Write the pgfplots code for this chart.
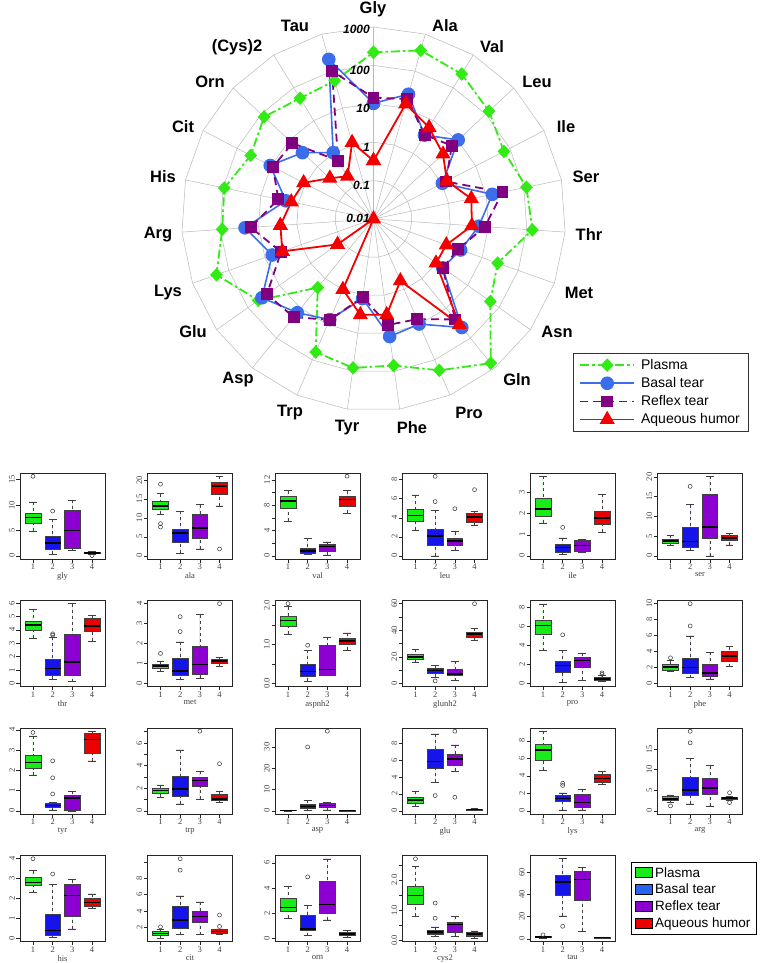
\documentclass[border=0pt]{standalone}
\usepackage{pgfplots}
\pgfplotsset{compat=1.18}
\usepgfplotslibrary{polar,statistics}
\usepackage{fontspec}
\setmainfont{Liberation Sans}
\newfontfamily\bxserif{Liberation Serif}
\newcommand{\bxf}{\bxserif\fontsize{8.5}{9}\selectfont}

\definecolor{rG}{RGB}{50,235,20}
\definecolor{rB}{RGB}{60,110,235}
\definecolor{rP}{RGB}{128,0,128}
\definecolor{rR}{RGB}{245,0,0}
\definecolor{bG}{RGB}{25,235,25}
\definecolor{bB}{RGB}{20,20,235}
\definecolor{bP}{RGB}{140,0,210}
\definecolor{bR}{RGB}{235,0,0}
\definecolor{lB}{RGB}{40,100,240}

\pgfplotsset{
 bx/.style={anchor=north west, scale only axis, width=85pt, height=86pt,
  xmin=0.34, xmax=4.66, xtick={1,2,3,4}, xticklabels={1,2,3,4},
  axis line style={black!85, line width=0.6pt},
  tick pos=left, tick align=outside, major tick length=3.5pt,
  tick style={black!85, line width=0.5pt},
  ticklabel style={font=\bxf, text=black!75},
  yticklabel style={rotate=90, anchor=south, inner sep=1.5pt},
  xticklabel style={inner sep=1.5pt},
  xlabel style={font=\bxf, text=black!75, inner sep=0pt, yshift=-1pt},
  boxplot/draw direction=y,
  boxplot/box extend=0.8, boxplot/whisker extend=0.4,
  boxplot/every median/.style={line width=1.5pt, black},
  boxplot/draw/lower whisker/.code={%
    \draw[dashed, line width=0.5pt] (boxplot box cs:\pgfplotsboxplotvalue{lower whisker},0.5) -- (boxplot box cs:\pgfplotsboxplotvalue{lower quartile},0.5);
    \draw[solid, line width=0.5pt] (boxplot whisker cs:\pgfplotsboxplotvalue{lower whisker},0) -- (boxplot whisker cs:\pgfplotsboxplotvalue{lower whisker},1);},
  boxplot/draw/upper whisker/.code={%
    \draw[dashed, line width=0.5pt] (boxplot box cs:\pgfplotsboxplotvalue{upper whisker},0.5) -- (boxplot box cs:\pgfplotsboxplotvalue{upper quartile},0.5);
    \draw[solid, line width=0.5pt] (boxplot whisker cs:\pgfplotsboxplotvalue{upper whisker},0) -- (boxplot whisker cs:\pgfplotsboxplotvalue{upper whisker},1);},
  clip=false},
 bxp/.style={draw=black!75, line width=0.5pt, mark=o, mark size=2pt, mark options={solid, black!80, line width=0.5pt}}
}
\newcommand{\bp}[7]{\addplot[bxp, fill=#2, boxplot prepared={draw position=#1, lower whisker=#3, lower quartile=#4, median=#5, upper quartile=#6, upper whisker=#7}] coordinates}

\begin{document}
\begin{tikzpicture}
\useasboundingbox (0,0) rectangle (765pt,-963pt);
\coordinate (C) at (373.5pt,-219pt);
% radar grid
\foreach \r in {38.4,76.8,115.2,153.6,192}{
  \draw[gray!55, line width=0.5pt] ([shift={(C)}]90:\r pt) \foreach \k in {1,...,22}{ -- ([shift={(C)}]{90-\k*360/23}:\r pt) } -- cycle;
}
\foreach \k in {0,...,22}{ \draw[gray!55, line width=0.5pt] (C) -- ([shift={(C)}]{90-\k*360/23}:192pt); }

\begin{polaraxis}[at={(373.5pt,-219pt)}, anchor=origin, scale only axis, width=384pt, height=384pt,
  xmin=0, xmax=360, ymin=0, ymax=5, hide axis, clip=false,
  y filter/.expression={log10(y)+2},
  legend style={at={(1.0195,0.151)}, anchor=north west, draw=black!80, line width=0.6pt, fill=white,
     font=\fontsize{14}{15}\selectfont, row sep=2.5pt, inner xsep=6pt, inner ysep=4pt,
     /tikz/every odd column/.append style={column sep=4pt}},
  legend cell align=left,
  legend image code/.code={\draw[mark repeat=2, mark phase=2, #1] plot coordinates {(0pt,0pt) (27pt,0pt) (54pt,0pt)};}]
\addplot[rG, line width=1.8pt, dash pattern=on 9pt off 3pt on 2.5pt off 3pt, mark=diamond*, mark size=5.5pt, mark options={solid, fill=rG, xscale=1.25}] table {
a v
90 219
74.348 363
58.696 263
43.043 130
27.391 67
11.739 117
-3.913 140
-19.565 27
-35.217 53
-50.870 690
-66.522 198
-82.174 71
-97.826 82
-113.478 60
-129.130 2.0
-144.783 47
-160.435 219
-176.087 89
-191.739 93
-207.391 40
-223.043 79
-238.696 48
-254.348 55
-270 219
};
\addlegendentry{Plasma}
\addplot[rB, line width=1.6pt, mark=*, mark size=6pt, mark options={solid, fill=rB}] table {
a v
90 10.3
74.348 23.7
58.696 3.6
43.043 10.4
27.391 1.05
11.739 14.5
-3.913 5.6
-19.565 2.57
-35.217 1.6
-50.870 44
-66.522 9.6
-82.174 12.3
-97.826 1.23
-113.478 7.2
-129.130 14
-144.783 36
-160.435 6.3
-176.087 22.6
-191.739 2.15
-207.391 10.7
-223.043 3.4
-238.696 1.05
-254.348 208
-270 10.3
};
\addlegendentry{Basal tear}
\addplot[rP, line width=1.8pt, dash pattern=on 8pt off 5pt, mark=square*, mark size=5pt, mark options={solid, fill=rP}] table {
a v
90 14.4
74.348 17.7
58.696 3.7
43.043 6.2
27.391 1.32
11.739 27
-3.913 8.1
-19.565 2.2
-35.217 1.6
-50.870 23.5
-66.522 7.0
-82.174 6.1
-97.826 1.13
-113.478 7.3
-129.130 19.7
-144.783 25
-160.435 3.6
-176.087 16
-191.739 3.4
-207.391 8.9
-223.043 7.8
-238.696 0.6
-254.348 100
-270 14.4
};
\addlegendentry{Reflex tear}
\addplot[rR, line width=1.8pt, mark=triangle*, mark size=7pt, mark options={solid, fill=rR}] table {
a v
90 0.33
74.348 13
58.696 6.1
43.043 3.0
27.391 1.42
11.739 4.0
-3.913 3.7
-19.565 1.03
-35.217 0.98
-50.870 35
-66.522 0.57
-82.174 3.3
-97.826 3.3
-113.478 1.0
-129.130 0.01
-144.783 0.14
-160.435 3.3
-176.087 2.7
-191.739 1.54
-207.391 1.12
-223.043 0.36
-238.696 0.2
-254.348 1.17
-270 0.33
};
\addlegendentry{Aqueous humor}
\end{polaraxis}

% radial labels
\begin{scope}[every node/.style={anchor=east, font=\bfseries\itshape\fontsize{12}{12}\selectfont, inner sep=0pt}]
\node at (370pt,-29pt) {1000};
\node at (370pt,-70pt) {100};
\node at (370pt,-108pt) {10};
\node at (370pt,-147pt) {1};
\node at (370pt,-185pt) {0.1};
\node at (370pt,-218pt) {0.01};
\end{scope}
% category labels
\begin{scope}[every node/.style={font=\bfseries\fontsize{16.5}{17}\selectfont, inner sep=0pt}]
\node at (373pt,-9pt) {Gly};
\node at (445pt,-26pt) {Ala};
\node at (492pt,-47pt) {Val};
\node at (537pt,-82pt) {Leu};
\node at (566pt,-127pt) {Ile};
\node at (586pt,-177pt) {Ser};
\node at (589pt,-235pt) {Thr};
\node at (579pt,-293pt) {Met};
\node at (557pt,-332pt) {Asn};
\node at (517pt,-380pt) {Gln};
\node at (469pt,-413pt) {Pro};
\node at (412pt,-428pt) {Phe};
\node at (347pt,-428pt) {Tyr};
\node at (290pt,-413pt) {Trp};
\node at (238pt,-380pt) {Asp};
\node at (193pt,-332pt) {Glu};
\node at (168pt,-293pt) {Lys};
\node at (158pt,-235pt) {Arg};
\node at (163pt,-177pt) {His};
\node at (183pt,-127pt) {Cit};
\node at (210pt,-82pt) {Orn};
\node at (237pt,-47pt) {(Cys)2};
\node at (295pt,-26pt) {Tau};
\end{scope}

% ===== Row 1 =====
\begin{axis}[bx, at={(20pt,-473pt)}, ymin=-0.63, ymax=16.3, ytick={0,5,10,15}, yticklabels={0,5,10,15}, xlabel={gly}]
\bp{1}{bG}{4.9}{6.5}{7.5}{8.35}{10.6}{(1,15.65)};
\bp{2}{bB}{0.33}{1.2}{2.5}{3.9}{7.2}{(2,8.8)};
\bp{3}{bP}{1.0}{1.45}{5.0}{9.0}{10.95}{};
\bp{4}{bR}{0.4}{0.5}{0.6}{0.75}{0.9}{(4,0.05)};
\end{axis}
\begin{axis}[bx, at={(147.5pt,-473pt)}, ymin=-0.85, ymax=21.85, ytick={0,5,10,15,20}, yticklabels={0,5,10,15,20}, xlabel={ala}]
\bp{1}{bG}{11.0}{12.2}{13.2}{14.5}{16.4}{(1,18.9) (1,8.5) (1,7.6)};
\bp{2}{bB}{0.7}{3.7}{6.0}{7.1}{11.8}{};
\bp{3}{bP}{1.8}{4.6}{7.4}{10.9}{13.5}{};
\bp{4}{bR}{13.2}{16.3}{18.4}{19.3}{21.0}{(4,1.8)};
\end{axis}
\begin{axis}[bx, at={(275pt,-473pt)}, ymin=-0.5, ymax=13.1, ytick={0,2,4,6,8,10,12}, yticklabels={0,,4,,8,,12}, xlabel={val}]
\bp{1}{bG}{5.5}{7.5}{8.7}{9.4}{10.3}{};
\bp{2}{bB}{0.2}{0.4}{0.8}{1.2}{2.8}{};
\bp{3}{bP}{0.15}{0.8}{1.5}{1.8}{2.2}{};
\bp{4}{bR}{6.7}{7.9}{8.9}{9.4}{10.3}{(4,12.6)};
\end{axis}
\begin{axis}[bx, at={(402.5pt,-473pt)}, ymin=-0.33, ymax=8.7, ytick={0,2,4,6,8}, yticklabels={0,2,4,6,8}, xlabel={leu}]
\bp{1}{bG}{2.7}{3.65}{4.25}{4.9}{6.4}{};
\bp{2}{bB}{0.0}{1.15}{2.1}{2.8}{4.8}{(2,8.35) (2,5.7)};
\bp{3}{bP}{0.6}{1.15}{1.55}{1.9}{2.55}{(3,4.95)};
\bp{4}{bR}{3.25}{3.5}{4.1}{4.45}{4.7}{(4,6.95)};
\end{axis}
\begin{axis}[bx, at={(530pt,-473pt)}, ymin=-0.15, ymax=3.93, ytick={0,1,2,3}, yticklabels={0,1,2,3}, xlabel={ile}]
\bp{1}{bG}{1.56}{1.88}{2.23}{2.71}{3.78}{};
\bp{2}{bB}{0.08}{0.19}{0.4}{0.53}{0.85}{(2,1.35)};
\bp{3}{bP}{0.19}{0.24}{0.48}{0.72}{0.77}{};
\bp{4}{bR}{1.12}{1.52}{1.8}{2.12}{2.92}{};
\end{axis}
\begin{axis}[bx, at={(657.5pt,-473pt)}, ymin=-0.81, ymax=21.0, ytick={0,5,10,15,20}, yticklabels={0,5,10,15,20}, xlabel={ser}]
\bp{1}{bG}{2.6}{3.2}{3.7}{4.3}{5.2}{};
\bp{2}{bB}{1.3}{2.1}{3.6}{7.3}{13.0}{(2,17.6)};
\bp{3}{bP}{0.0}{4.5}{7.3}{15.6}{20.2}{};
\bp{4}{bR}{2.8}{3.9}{4.55}{5.15}{5.75}{};
\end{axis}

% ===== Row 2 =====
\begin{axis}[bx, at={(20pt,-600.5pt)}, ymin=-0.24, ymax=6.19, ytick={0,1,2,3,4,5,6}, yticklabels={0,1,2,3,4,5,6}, xlabel={thr}]
\bp{1}{bG}{3.4}{3.95}{4.35}{4.65}{5.55}{};
\bp{2}{bB}{0.3}{0.6}{1.1}{1.8}{3.45}{(2,3.6) (2,3.7)};
\bp{3}{bP}{0.13}{0.6}{1.6}{3.7}{5.95}{};
\bp{4}{bR}{3.15}{3.9}{4.3}{4.85}{5.1}{};
\end{axis}
\begin{axis}[bx, at={(147.5pt,-600.5pt)}, ymin=-0.16, ymax=4.16, ytick={0,1,2,3,4}, yticklabels={0,1,2,3,4}, xlabel={met}]
\bp{1}{bG}{0.6}{0.77}{0.87}{0.96}{1.13}{(1,1.5)};
\bp{2}{bB}{0.19}{0.4}{0.62}{1.25}{2.08}{(2,2.6) (2,3.35)};
\bp{3}{bP}{0.26}{0.48}{0.94}{1.85}{3.45}{};
\bp{4}{bR}{0.87}{1.0}{1.13}{1.22}{1.32}{(4,4.0)};
\end{axis}
\begin{axis}[bx, at={(275pt,-600.5pt)}, ymin=-0.08, ymax=2.13, ytick={0,0.5,1,1.5,2}, yticklabels={0.0,,1.0,,2.0}, xlabel={aspnh2}]
\bp{1}{bG}{1.27}{1.47}{1.62}{1.72}{1.97}{(1,2.05)};
\bp{2}{bB}{0.06}{0.19}{0.31}{0.49}{0.85}{(2,0.98)};
\bp{3}{bP}{0.2}{0.2}{0.36}{0.98}{1.18}{};
\bp{4}{bR}{0.85}{1.0}{1.09}{1.15}{1.3}{};
\end{axis}
\begin{axis}[bx, at={(402.5pt,-600.5pt)}, ymin=-2.4, ymax=62.4, ytick={0,10,20,30,40,50,60}, yticklabels={0,,20,,40,,60}, xlabel={glunh2}]
\bp{1}{bG}{16.1}{17.9}{20}{22.2}{25.5}{};
\bp{2}{bB}{4.6}{7.7}{9.7}{11.5}{13.5}{(2,1.8)};
\bp{3}{bP}{2.0}{6.4}{7.1}{10.7}{16.6}{};
\bp{4}{bR}{32.4}{34.4}{37}{38.3}{41.6}{(4,60)};
\end{axis}
\begin{axis}[bx, at={(530pt,-600.5pt)}, ymin=-0.33, ymax=8.7, ytick={0,2,4,6,8}, yticklabels={0,2,4,6,8}, xlabel={pro}]
\bp{1}{bG}{3.45}{5.15}{6.05}{6.65}{8.35}{};
\bp{2}{bB}{0.1}{1.2}{1.9}{2.3}{3.5}{(2,5.1)};
\bp{3}{bP}{0.35}{1.7}{2.4}{2.75}{3.15}{};
\bp{4}{bR}{0.18}{0.36}{0.46}{0.6}{0.82}{(4,0.95) (4,1.1)};
\end{axis}
\begin{axis}[bx, at={(657.5pt,-600.5pt)}, ymin=-0.4, ymax=10.4, ytick={0,2,4,6,8,10}, yticklabels={0,2,4,6,8,10}, xlabel={phe}]
\bp{1}{bG}{1.5}{1.7}{2.05}{2.35}{2.85}{(1,3.2)};
\bp{2}{bB}{0.7}{1.3}{2.0}{3.2}{5.95}{(2,7.2) (2,10)};
\bp{3}{bP}{0.55}{0.85}{1.3}{2.35}{3.9}{};
\bp{4}{bR}{2.1}{2.75}{3.4}{4.05}{4.6}{};
\end{axis}

% ===== Row 3 =====
\begin{axis}[bx, at={(20pt,-728pt)}, ymin=-0.16, ymax=4.09, ytick={0,1,2,3,4}, yticklabels={0,1,2,3,4}, xlabel={tyr}]
\bp{1}{bG}{1.77}{2.08}{2.38}{2.75}{3.7}{(1,3.87)};
\bp{2}{bB}{0.05}{0.17}{0.25}{0.35}{0.42}{(2,0.83) (2,1.63) (2,2.47)};
\bp{3}{bP}{0.0}{0.05}{0.63}{0.77}{0.97}{};
\bp{4}{bR}{2.47}{2.83}{3.52}{3.83}{3.93}{};
\end{axis}
\begin{axis}[bx, at={(147.5pt,-728pt)}, ymin=-0.28, ymax=7.33, ytick={0,1,2,3,4,5,6,7}, yticklabels={0,,2,,4,,6,}, xlabel={trp}]
\bp{1}{bG}{1.2}{1.57}{1.8}{2.0}{2.3}{};
\bp{2}{bB}{0.62}{1.33}{1.93}{3.1}{5.4}{};
\bp{3}{bP}{1.03}{2.15}{2.7}{3.0}{3.5}{(3,7.05)};
\bp{4}{bR}{0.77}{0.98}{1.03}{1.5}{1.72}{(4,4.17)};
\end{axis}
\begin{axis}[bx, at={(275pt,-728pt)}, ymin=-1.5, ymax=38.9, ytick={0,10,20,30}, yticklabels={0,10,20,30}, xlabel={asp}]
\bp{1}{bG}{0.0}{0.05}{0.1}{0.2}{0.35}{};
\bp{2}{bB}{0.15}{1.2}{2.0}{3.3}{4.9}{(2,30)};
\bp{3}{bP}{0.5}{1.6}{2.5}{3.6}{3.9}{(3,37.4)};
\bp{4}{bR}{0.0}{0.02}{0.05}{0.1}{0.2}{};
\end{axis}
\begin{axis}[bx, at={(402.5pt,-728pt)}, ymin=-0.38, ymax=9.78, ytick={0,2,4,6,8}, yticklabels={0,2,4,6,8}, xlabel={glu}]
\bp{1}{bG}{0.5}{0.9}{1.3}{1.6}{2.3}{};
\bp{2}{bB}{3.4}{5.05}{5.85}{7.3}{9.1}{(2,1.8)};
\bp{3}{bP}{4.7}{5.4}{6.1}{6.7}{7.8}{(3,9.4) (3,1.6)};
\bp{4}{bR}{0.05}{0.1}{0.15}{0.2}{0.3}{};
\end{axis}
\begin{axis}[bx, at={(530pt,-728pt)}, ymin=-0.36, ymax=9.46, ytick={0,2,4,6,8}, yticklabels={0,2,4,6,8}, xlabel={lys}]
\bp{1}{bG}{4.65}{5.8}{6.95}{7.55}{9.1}{};
\bp{2}{bB}{0.12}{1.1}{1.4}{1.75}{2.05}{(2,2.9) (2,3.15)};
\bp{3}{bP}{0.12}{0.43}{0.97}{1.95}{2.45}{};
\bp{4}{bR}{3.0}{3.25}{3.7}{4.2}{4.55}{};
\end{axis}
\begin{axis}[bx, at={(657.5pt,-728pt)}, ymin=-0.77, ymax=20.1, ytick={0,5,10,15}, yticklabels={0,5,10,15}, xlabel={arg}]
\bp{1}{bG}{2.0}{2.45}{2.9}{3.5}{3.9}{(1,1.2)};
\bp{2}{bB}{1.7}{3.7}{5.1}{8.1}{12.8}{(2,16.5) (2,19.3)};
\bp{3}{bP}{1.2}{4.1}{5.5}{7.8}{11.0}{};
\bp{4}{bR}{2.5}{2.85}{3.1}{3.3}{3.5}{(4,4.4) (4,2.0)};
\end{axis}

% ===== Row 4 =====
\begin{axis}[bx, at={(20pt,-855.5pt)}, ymin=-0.16, ymax=4.16, ytick={0,1,2,3,4}, yticklabels={0,1,2,3,4}, xlabel={his}]
\bp{1}{bG}{2.3}{2.65}{2.8}{3.05}{3.4}{(1,4.0)};
\bp{2}{bB}{0.05}{0.17}{0.4}{1.22}{2.72}{(2,3.23)};
\bp{3}{bP}{0.48}{1.1}{2.14}{2.72}{2.95}{};
\bp{4}{bR}{1.53}{1.62}{1.8}{2.0}{2.23}{};
\end{axis}
\begin{axis}[bx, at={(147.5pt,-855.5pt)}, ymin=0.25, ymax=10.8, ytick={2,4,6,8,10}, yticklabels={2,4,6,8,}, xlabel={cit}]
\bp{1}{bG}{0.65}{0.96}{1.22}{1.45}{1.74}{(1,2.05)};
\bp{2}{bB}{1.1}{1.87}{2.9}{4.55}{5.85}{(2,9.0) (2,10.4)};
\bp{3}{bP}{1.1}{2.6}{3.3}{4.0}{5.1}{};
\bp{4}{bR}{1.17}{1.3}{1.5}{1.7}{1.8}{(4,2.1) (4,3.5)};
\end{axis}
\begin{axis}[bx, at={(275pt,-855.5pt)}, ymin=-0.26, ymax=6.58, ytick={0,2,4,6}, yticklabels={0,2,4,6}, xlabel={orn}]
\bp{1}{bG}{1.6}{2.13}{2.45}{3.15}{4.13}{};
\bp{2}{bB}{0.21}{0.67}{0.72}{1.81}{2.6}{(2,4.88)};
\bp{3}{bP}{1.47}{2.0}{2.67}{4.53}{6.32}{};
\bp{4}{bR}{0.05}{0.2}{0.32}{0.48}{0.6}{};
\end{axis}
\begin{axis}[bx, at={(402.5pt,-855.5pt)}, ymin=-0.03, ymax=2.81, ytick={0,0.5,1,1.5,2,2.5}, yticklabels={0.0,,1.0,,2.0,}, xlabel={cys2}]
\bp{1}{bG}{0.8}{1.21}{1.49}{1.79}{2.45}{(1,2.7)};
\bp{2}{bB}{0.14}{0.2}{0.29}{0.35}{0.45}{(2,0.74) (2,1.24)};
\bp{3}{bP}{0.14}{0.26}{0.53}{0.62}{0.8}{};
\bp{4}{bR}{0.08}{0.14}{0.21}{0.26}{0.32}{};
\end{axis}
\begin{axis}[bx, at={(530pt,-855.5pt)}, ymin=-2.4, ymax=74.9, ytick={0,20,40,60}, yticklabels={0,20,40,60}, xlabel={tau}]
\bp{1}{bG}{0.8}{1.3}{1.8}{2.2}{2.6}{(1,3.6)};
\bp{2}{bB}{20.7}{39.6}{51}{57}{72}{(2,11.3)};
\bp{3}{bP}{6.7}{35}{53.4}{61}{64}{};
\bp{4}{bR}{0.5}{0.8}{1.0}{1.2}{1.5}{};
\end{axis}

% box legend
\begin{axis}[at={(631pt,-862pt)}, anchor=north west, hide axis, scale only axis, width=10pt, height=10pt,
  xmin=0, xmax=1, ymin=0, ymax=1,
  legend style={at={(0,1)}, anchor=north west, draw=black, line width=0.8pt, fill=white,
    font=\fontsize{13.5}{14}\selectfont, row sep=1.5pt, inner xsep=4pt, inner ysep=3pt},
  legend cell align=left,
  legend image code/.code={\draw[#1] (0pt,-4.5pt) rectangle (17pt,5.5pt);}]
\addlegendimage{fill=bG, draw=black, line width=0.6pt}
\addlegendentry{Plasma}
\addlegendimage{fill=lB, draw=black, line width=0.6pt}
\addlegendentry{Basal tear}
\addlegendimage{fill=bP, draw=black, line width=0.6pt}
\addlegendentry{Reflex tear}
\addlegendimage{fill=bR, draw=black, line width=0.6pt}
\addlegendentry{Aqueous humor}
\end{axis}
\end{tikzpicture}
\end{document}
